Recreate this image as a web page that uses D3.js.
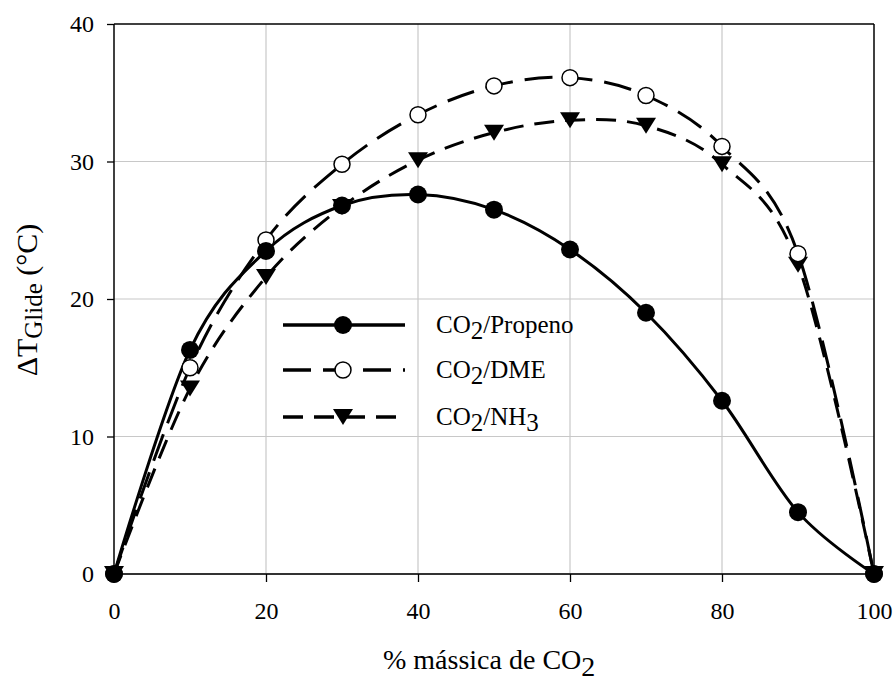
<!DOCTYPE html>
<html>
<head>
<meta charset="utf-8">
<script src="https://cdn.jsdelivr.net/npm/d3@7"></script>
<style>
  html, body { margin: 0; padding: 0; background: #fff; }
  svg { display: block; }
  svg text { font-family: "Liberation Serif", "Times New Roman", serif !important; fill: #000; }
</style>
</head>
<body>
<svg id="chart" width="896" height="677"></svg>
<script>
// CO2 mass fraction (%) and temperature glide (°C) for each mixture
const co2Mass = [0, 10, 20, 30, 40, 50, 60, 70, 80, 90, 100];
const propeno = [0, 16.3, 23.5, 26.8, 27.6, 26.5, 23.6, 19.0, 12.6, 4.5, 0];
const dme     = [0, 15.0, 24.3, 29.8, 33.4, 35.5, 36.1, 34.8, 31.1, 23.3, 0];
const nh3     = [0, 13.5, 21.6, 26.7, 30.1, 32.1, 33.0, 32.6, 29.8, 22.5, 0];
const xTicks = [0, 20, 40, 60, 80, 100];
const yTicks = [0, 10, 20, 30, 40];

const svg = d3.select("#chart");
const plotL = 114, plotR = 874, plotT = 24, plotB = 574;
const serif = "'Liberation Serif', 'Times New Roman', serif";

const x = d3.scaleLinear().domain([0, 100]).range([plotL, plotR]);
const y = d3.scaleLinear().domain([0, 40]).range([plotB, plotT]);

// grid
const grid = svg.append("g");
grid.selectAll("line.v").data(xTicks.filter(d => d > 0 && d < 100)).join("line")
  .attr("x1", d => x(d)).attr("x2", d => x(d)).attr("y1", plotT).attr("y2", plotB)
  .attr("stroke", "#c8c8c8").attr("stroke-width", 1.2);
grid.selectAll("line.h").data(yTicks.filter(d => d > 0 && d < 40)).join("line")
  .attr("x1", plotL).attr("x2", plotR).attr("y1", d => y(d)).attr("y2", d => y(d))
  .attr("stroke", "#c8c8c8").attr("stroke-width", 1.2);

// frame: top and right borders
svg.append("line").attr("x1", plotL).attr("x2", plotR).attr("y1", plotT).attr("y2", plotT)
  .attr("stroke", "#000").attr("stroke-width", 1.5);
svg.append("line").attr("x1", plotR).attr("x2", plotR).attr("y1", plotT).attr("y2", plotB)
  .attr("stroke", "#000").attr("stroke-width", 1.5);

// axes
const yAxis = svg.append("g").attr("transform", `translate(${plotL},0)`)
  .call(d3.axisLeft(y).tickValues(yTicks).tickSize(7).tickPadding(13).tickFormat(d3.format("d")));
yAxis.attr("font-family", serif).attr("font-size", 24);
yAxis.select(".domain").attr("stroke", "#000").attr("stroke-width", 1.5).attr("d", `M0,${plotT}V${plotB}`);
yAxis.selectAll(".tick line").attr("stroke", "#000").attr("stroke-width", 1.3);
yAxis.selectAll("text").style("font-size", "24px").attr("fill", "#000");

const xAxis = svg.append("g").attr("transform", `translate(0,${plotB})`)
  .call(d3.axisBottom(x).tickValues(xTicks).tickSize(8).tickPadding(20).tickFormat(d3.format("d")));
xAxis.attr("font-family", serif).attr("font-size", 24);
xAxis.select(".domain").attr("stroke", "#333").attr("stroke-width", 2.2).attr("d", `M${plotL},0H${plotR}`);
xAxis.selectAll(".tick line").attr("stroke", "#000").attr("stroke-width", 1.3);
xAxis.selectAll("text").style("font-size", "24px").attr("fill", "#000");

// series
const series = [
  { name: "Propeno", values: propeno, dash: null, marker: "filled" },
  { name: "DME", values: dme, dash: "28,12", marker: "open" },
  { name: "NH", sub2: "3", values: nh3, dash: "20,11", marker: "tri" }
];

const line = d3.line().x(d => x(d[0])).y(d => y(d[1])).curve(d3.curveCatmullRom.alpha(0));

function drawMarker(g, type, cx, cy) {
  if (type === "filled") {
    g.append("circle").attr("cx", cx).attr("cy", cy).attr("r", 9).attr("fill", "#000");
  } else if (type === "open") {
    g.append("circle").attr("cx", cx).attr("cy", cy).attr("r", 8).attr("fill", "#fff")
      .attr("stroke", "#000").attr("stroke-width", 1.5);
  } else {
    g.append("path").attr("d", "M-10,-8L10,-8L0,8Z")
      .attr("transform", `translate(${cx},${cy})`).attr("fill", "#000");
  }
}

// lines first, markers on top; later series drawn beneath earlier ones
series.slice().reverse().forEach(s => {
  const pts = co2Mass.map((c, i) => [c, s.values[i]]);
  svg.append("path").datum(pts).attr("d", line)
    .attr("fill", "none").attr("stroke", "#000").attr("stroke-width", 3)
    .attr("stroke-dasharray", s.dash);
});
series.slice().reverse().forEach(s => {
  const g = svg.append("g");
  co2Mass.forEach((c, i) => drawMarker(g, s.marker, x(c), y(s.values[i])));
});

// legend (no background: grid stays visible behind it)
const legend = svg.append("g");
const legendY = [325, 370, 417];
series.forEach((s, i) => {
  const ly = legendY[i];
  legend.append("line").attr("x1", 283).attr("x2", 405).attr("y1", ly).attr("y2", ly)
    .attr("stroke", "#000").attr("stroke-width", 3.5).attr("stroke-dasharray", s.dash);
  drawMarker(legend, s.marker, 343, ly);
  const t = legend.append("text").attr("x", 436).attr("y", ly + 8).style("font-size", "25px");
  t.append("tspan").text("CO");
  t.append("tspan").attr("dy", 6).text("2");
  t.append("tspan").attr("dy", -6).text("/" + s.name);
  if (s.sub2) t.append("tspan").attr("dy", 6).text(s.sub2);
});

// axis titles
const xt = svg.append("text").attr("x", 383).attr("y", 669).style("font-size", "28px");
xt.append("tspan").text("% mássica de CO");
xt.append("tspan").attr("dy", 7).text("2");

const yt = svg.append("text").attr("transform", "translate(37,300) rotate(-90)")
  .attr("text-anchor", "middle").style("font-size", "30px");
yt.append("tspan").text("ΔT");
yt.append("tspan").attr("dy", 5).style("font-size", "25px").text("Glide");
yt.append("tspan").attr("dy", -5).text(" (°C)");
</script>
</body>
</html>
